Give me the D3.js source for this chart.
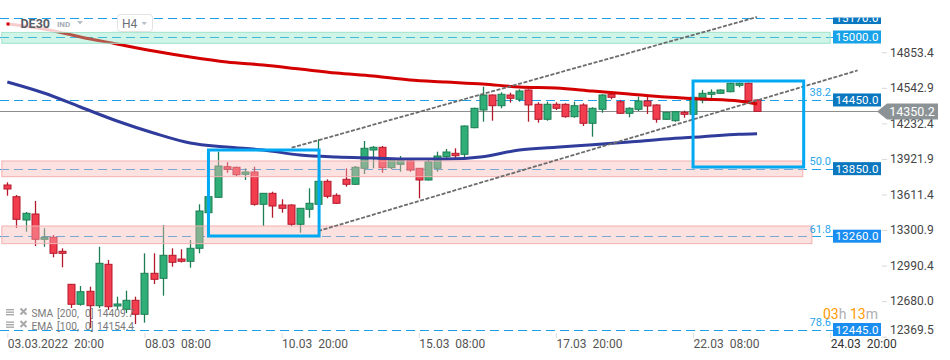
<!DOCTYPE html>
<html><head><meta charset="utf-8">
<script src="https://cdn.jsdelivr.net/npm/d3@7/dist/d3.min.js"></script>
<style>
html,body{margin:0;padding:0;background:#fff;}
svg{display:block;font-family:Roboto,"Open Sans",sans-serif;}
.pre{white-space:pre;}
</style></head><body>
<svg id="chart" width="950" height="360"></svg>
<script>
// ---------------- DATA ----------------
const opens = [13707.2,13605.0,13401.5,13453.9,13233.0,13250.4,13128.1,12839.8,12665.2,12778.7,
12652.9,13014.5,12650.3,12621.5,12700.1,12577.8,12935.9,12892.2,13093.2,13060.8,
13040.7,13154.3,13465.3,13599.8,13867.0,13861.8,13800.6,13820.7,13538.6,13634.7,
13532.5,13532.5,13363.9,13495.0,13538.6,13739.5,13617.3,13756.9,13713.3,13853.1,
14012.9,14036.5,13858.3,13888.0,13919.5,13853.1,13750.9,13853.1,13954.4,13984.1,
13975.4,14207.8,14362.5,14493.4,14400.0,14493.4,14455.9,14537.0,14412.2,14281.2,
14412.2,14412.2,14303.9,14406.2,14246.2,14368.5,14499.5,14434.9,14333.6,14368.5,
14441.0,14406.2,14281.2,14268.9,14342.3,14324.8,14464.6,14499.5,14508.2,14522.2,
14578.1,14595.6,14449.7];
const highs = [13730.8,13619.9,13471.4,13567.5,13329.1,13270.5,13154.3,12842.4,12825.0,12818.9,
13168.3,13052.1,12731.6,12783.9,12731.6,13110.6,13110.6,13357.9,13154.3,13145.6,
13226.8,13538.6,13619.9,13998.1,13905.5,13867.0,13853.1,13867.0,13637.3,13648.7,
13582.3,13538.6,13506.3,13678.4,14106.3,13756.9,13634.7,13853.1,13873.2,14091.6,
14047.9,14047.9,13934.3,13960.5,13931.7,13853.1,13940.4,13998.1,14021.6,14027.8,
14227.0,14382.5,14565.9,14497.7,14517.0,14513.5,14543.1,14543.1,14429.6,14434.9,
14429.6,14420.9,14434.9,14420.9,14386.0,14499.5,14513.5,14449.7,14386.0,14478.5,
14484.6,14412.2,14347.6,14349.3,14356.3,14478.5,14537.0,14543.1,14543.1,14600.8,
14600.8,14600.8,14455.9];
const lows = [13613.8,13331.7,13299.4,13174.4,13168.3,13075.7,12988.3,12632.8,12652.9,12458.1,
12632.8,12615.4,12615.4,12589.2,12493.0,12504.4,12842.4,12740.3,12993.5,13030.2,
12984.8,13110.6,13453.9,13593.7,13814.6,13785.8,13750.9,13526.4,13349.1,13421.6,
13465.3,13349.1,13290.6,13421.6,13532.5,13591.0,13541.3,13692.4,13707.2,13803.2,
13853.1,13814.6,13844.3,13823.3,13823.3,13591.0,13746.5,13823.3,13934.3,13940.4,
13940.4,14202.6,14260.2,14268.9,14377.3,14426.2,14434.9,14260.2,14251.5,14268.9,
14362.5,14295.1,14295.1,14222.6,14129.1,14338.8,14455.9,14327.4,14298.6,14353.6,
14327.4,14251.5,14275.0,14260.2,14295.1,14323.1,14420.9,14464.6,14502.1,14517.0,
14560.6,14434.9,14350.2];
const closes = [13672.3,13407.6,13460.0,13233.0,13250.4,13110.6,13110.6,12665.2,12775.2,12652.9,
13023.2,12644.2,12667.8,12700.1,12577.8,12935.9,12883.5,13093.2,13032.0,13040.7,
13154.3,13480.1,13605.0,13873.2,13844.3,13797.1,13820.7,13538.6,13634.7,13523.8,
13503.7,13363.9,13503.7,13547.4,13739.5,13608.5,13547.4,13713.3,13861.8,14027.8,
14036.5,13858.3,13925.6,13925.6,13838.2,13750.9,13910.7,13960.5,13995.5,13963.2,
14222.6,14377.3,14493.4,14400.0,14499.5,14464.6,14528.3,14406.2,14281.2,14412.2,
14377.3,14303.9,14400.0,14246.2,14377.3,14493.4,14473.3,14333.6,14377.3,14441.0,
14397.3,14281.2,14342.3,14347.6,14324.8,14473.3,14508.2,14517.0,14537.0,14595.6,
14595.6,14443.6,14350.2];

const maIdx   = [0,4,8,12,16,20,24,28,32,36,40,44,48,52,56,60,64,68,72,76,80,82];
const smaVals = [15113.6,15070.0,15000.0,14939.0,14877.7,14825.3,14781.6,14755.4,14720.5,14685.5,14659.3,
                 14624.4,14606.9,14589.5,14563.3,14554.5,14528.3,14502.1,14475.9,14458.4,14441.0,14415.0];
const emaVals = [14606.9,14510.8,14388.5,14266.2,14161.4,14074.0,14039.1,14012.9,13969.2,13951.8,13943.0,
                 13934.3,13934.3,13954.0,14013.0,14036.5,14059.0,14082.6,14109.0,14129.0,14150.0,14154.4];

const levelValues = [15170, 15000, 14450, 13850, 13260, 12445];
const levelLabels = ["15170.0","15000.0","14450.0","13850.0","13260.0","12445.0"];
const fibLabels   = ["", "", "38.2", "50.0", "61.8", "78.6"];

const zoneLow    = [14945, 13780, 13195];
const zoneHigh   = [15041, 13917, 13349];
const zoneEndIdx = [90, 87, 88];

const channelStartIdx = [31.1, 34];
const channelStartVal = [14033, 13305];
const channelEndIdx   = [82, 93];
const channelEndVal   = [15174.7, 14708];

const boxStartIdx = [22, 75];
const boxEndIdx   = [34.1, 87.1];
const boxLowVal   = [13261.7, 13864.4];
const boxHighVal  = [14012.9, 14615.7];

const lastPrice = 14350.2;
const yTicks = [14853.4, 14542.9, 14232.4, 13921.9, 13611.4, 13300.9, 12990.4, 12680.0, 12369.5];
const xTickIdx = [0, 15, 30, 45, 60, 75, 90];
const xTickLabels = ["03.03.2022  20:00","08.03  08:00","10.03  20:00","15.03  08:00","17.03  20:00","22.03  08:00","24.03  20:00"];
const smaLegend = ["SMA", "[200,", "0]", "14409.7"];
const emaLegend = ["EMA", "[100,", "0]", "14154.4"];

// ---------------- DRAW ----------------
const svg = d3.select("#chart");
const x = d3.scaleLinear().domain([0, 90]).range([7.3, 830.2]);
const y = d3.scaleLinear().domain([12445, 15000]).range([329.5, 37]);
const xLeft = x(-0.8), xLabel = x(90.3);

const GREEN_F = "#2fae78", GREEN_S = "#1d7d53", RED_F = "#f23d4f", RED_S = "#b3192c";
const LEVEL_C = "#1e9ee6";

// level dashed lines
const gLevels = svg.append("g");
gLevels.selectAll("line").data(levelValues).join("line")
  .attr("x1", xLeft).attr("x2", xLabel)
  .attr("y1", d => Math.round(y(d)) + 0.5).attr("y2", d => Math.round(y(d)) + 0.5)
  .attr("stroke", LEVEL_C).attr("stroke-width", 1.1).attr("stroke-dasharray", "9,5");

// current price line
svg.append("line").attr("x1", xLeft).attr("x2", 880)
  .attr("y1", Math.round(y(lastPrice)) + 0.5).attr("y2", Math.round(y(lastPrice)) + 0.5)
  .attr("stroke", "#8d8d8d").attr("stroke-width", 1);

// candles
const idx = d3.range(opens.length);
const gC = svg.append("g");
const bw = 7;
gC.selectAll("line").data(idx).join("line")
  .attr("x1", i => Math.round(x(i)) + 0.5).attr("x2", i => Math.round(x(i)) + 0.5)
  .attr("y1", i => y(highs[i])).attr("y2", i => y(lows[i]))
  .attr("stroke", i => closes[i] >= opens[i] ? GREEN_S : RED_S).attr("stroke-width", 1.3);
gC.selectAll("rect").data(idx).join("rect")
  .attr("x", i => Math.round(x(i)) - bw/2 + 0.5)
  .attr("width", bw)
  .attr("y", i => y(Math.max(opens[i], closes[i])))
  .attr("height", i => Math.max(1.5, Math.abs(y(opens[i]) - y(closes[i]))))
  .attr("fill", i => closes[i] >= opens[i] ? GREEN_F : RED_F)
  .attr("stroke", i => closes[i] >= opens[i] ? GREEN_S : RED_S).attr("stroke-width", 1);

// moving averages
const line = d3.line().x(d => x(d[0])).y(d => y(d[1])).curve(d3.curveMonotoneX);
svg.append("path").datum(maIdx.map((d, k) => [d, smaVals[k]])).attr("d", line)
  .attr("fill", "none").attr("stroke", "#d40000").attr("stroke-width", 3);
svg.append("path").datum(maIdx.map((d, k) => [d, emaVals[k]])).attr("d", line)
  .attr("fill", "none").attr("stroke", "#303c9c").attr("stroke-width", 3);

// zones
const zoneFill = ["rgba(130,228,195,0.38)", "rgba(247,184,184,0.42)", "rgba(247,184,184,0.42)"];
const zoneStroke = ["#9fe3c9", "#f4b0b0", "#f4b0b0"];
svg.append("g").selectAll("rect").data(zoneLow).join("rect")
  .attr("x", x(-0.6)).attr("width", (d, k) => x(zoneEndIdx[k]) - x(-0.6))
  .attr("y", (d, k) => y(zoneHigh[k])).attr("height", (d, k) => y(zoneLow[k]) - y(zoneHigh[k]))
  .attr("fill", (d, k) => zoneFill[k]).attr("stroke", (d, k) => zoneStroke[k]).attr("stroke-width", 1);

// channel lines
svg.append("g").selectAll("line").data(channelStartIdx).join("line")
  .attr("x1", d => x(d)).attr("y1", (d, k) => y(channelStartVal[k]))
  .attr("x2", (d, k) => x(channelEndIdx[k])).attr("y2", (d, k) => y(channelEndVal[k]))
  .attr("stroke", "#6c6c6c").attr("stroke-width", 1.8).attr("stroke-dasharray", "4,1.6");

// blue rectangles
svg.append("g").selectAll("rect").data(boxStartIdx).join("rect")
  .attr("x", d => x(d)).attr("width", (d, k) => x(boxEndIdx[k]) - x(d))
  .attr("y", (d, k) => y(boxHighVal[k])).attr("height", (d, k) => y(boxLowVal[k]) - y(boxHighVal[k]))
  .attr("fill", "none").attr("stroke", "#00a9f2").attr("stroke-width", 3);

// fib labels
svg.append("g").selectAll("text").data(levelValues).join("text")
  .attr("x", 831).attr("y", d => y(d) - 3.5).attr("text-anchor", "end")
  .attr("font-size", 11).attr("fill", "#2aa6ea")
  .text((d, k) => fibLabels[k]);

// level labels on right
svg.append("defs").append("clipPath").attr("id", "topclip")
  .append("rect").attr("x", 0).attr("y", 17.5).attr("width", 950).attr("height", 344);
const boxColors = ["#0b77be", "#18a2e8", "#0b77be", "#0b77be", "#1a8df0", "#1a8df0"];
const gL = svg.append("g").attr("clip-path", "url(#topclip)");
gL.selectAll("rect").data(levelValues).join("rect")
  .attr("x", 833).attr("width", 48).attr("y", d => y(d) - 6.5).attr("height", 13)
  .attr("fill", (d, k) => boxColors[k]);
gL.selectAll("text").data(levelValues).join("text")
  .attr("x", 857).attr("y", d => y(d) + 4).attr("text-anchor", "middle")
  .attr("font-size", 11.5).attr("fill", "#fff").attr("letter-spacing", 0.2)
  .text((d, k) => levelLabels[k]);

// right axis
const axR = svg.append("g").attr("transform", "translate(882,0)")
  .call(d3.axisRight(y).tickValues(yTicks).tickSize(5).tickPadding(3).tickFormat(d => d.toFixed(1)));
axR.select(".domain").remove();
axR.selectAll(".tick line").attr("stroke", "#d8d8d8").attr("transform", "translate(0,-1.5)");
axR.selectAll(".tick text").attr("font-size", 12).attr("fill", "#454545")
  .attr("font-family", "Roboto, sans-serif").attr("dy", "0.32em")
  .attr("y", d => y(d) > 331 ? 330 - y(d) : -1.5);

// price label
const py = y(lastPrice);
svg.append("path")
  .attr("d", `M877,${py} L887,${py-8} L938,${py-8} L938,${py+8} L887,${py+8} Z`)
  .attr("fill", "#8c9397");
svg.append("text").attr("x", 912).attr("y", py + 4.5).attr("text-anchor", "middle")
  .attr("font-size", 12.5).attr("fill", "#fff").text(lastPrice.toFixed(1));

// bottom axis
const axB = svg.append("g").attr("transform", "translate(0,333)")
  .call(d3.axisBottom(x).tickValues(xTickIdx).tickSize(5).tickPadding(1).tickFormat((d, k) => xTickLabels[k]));
axB.select(".domain").remove();
axB.selectAll(".tick line").attr("stroke", "#dcdcdc");
axB.selectAll(".tick text").attr("font-size", 12).attr("fill", (d, k) => k === xTickLabels.length - 1 ? "#333" : "#555")
  .attr("text-anchor", "start").attr("x", 0).attr("class", "pre").attr("font-family", "Roboto, sans-serif");

// top-left legend
svg.append("rect").attr("x", 0).attr("y", 21).attr("width", 112).attr("height", 11)
  .attr("fill", "#fff").attr("opacity", 0.8);
svg.append("rect").attr("x", 6.5).attr("y", 22.5).attr("width", 3).attr("height", 3).attr("fill", "#d40000");
svg.append("text").attr("x", 20.5).attr("y", 27.5).attr("font-size", 12.5).attr("font-weight", "bold")
  .attr("fill", "#585e66").text("DE30");
svg.append("text").attr("x", 57).attr("y", 27).attr("font-size", 8).attr("font-weight", "bold")
  .attr("fill", "#a3adb6").text("IND");
svg.append("path").attr("d", "M77,21 L83,21 L80,24.5 Z").attr("fill", "#b6bec6");
svg.append("rect").attr("x", 117.5).attr("y", 14.5).attr("width", 35).attr("height", 17).attr("rx", 3)
  .attr("fill", "#fff").attr("stroke", "#e3e3e3");
svg.append("text").attr("x", 122).attr("y", 27.5).attr("font-size", 12).attr("fill", "#6a7078").text("H4");
svg.append("path").attr("d", "M141.5,22 L147,22 L144.25,25 Z").attr("fill", "#b6bec6");

// bottom-left indicator legends
const legX = [31.5, 57, 85, 97];
[[smaLegend, 313], [emaLegend, 325.5]].forEach(([parts, yy]) => {
  const g = svg.append("g");
  [-4, -1.5, 1].forEach(o => g.append("rect").attr("x", 6).attr("y", yy + o).attr("width", 8).attr("height", 1.4).attr("fill", "#a9a9a9"));
  g.append("path").attr("d", `M20.5,${yy-4.5} L26.5,${yy+1.5} M26.5,${yy-4.5} L20.5,${yy+1.5}`)
    .attr("stroke", "#a9a9a9").attr("stroke-width", 2);
  const t = g.append("text").attr("y", yy + 4).attr("font-size", 10.2).attr("fill", "#7a7a7a");
  parts.forEach((p, k) => t.append("tspan").attr("x", legX[k]).text(p));
});

// countdown
const cd = svg.append("text").attr("x", 823).attr("y", 318.5).attr("font-size", 14);
cd.append("tspan").attr("fill", "#ff9a00").text("03");
cd.append("tspan").attr("fill", "#b0b0b0").text("h ");
cd.append("tspan").attr("fill", "#ff9a00").text("13");
cd.append("tspan").attr("fill", "#b0b0b0").text("m");
</script>
</body></html>
